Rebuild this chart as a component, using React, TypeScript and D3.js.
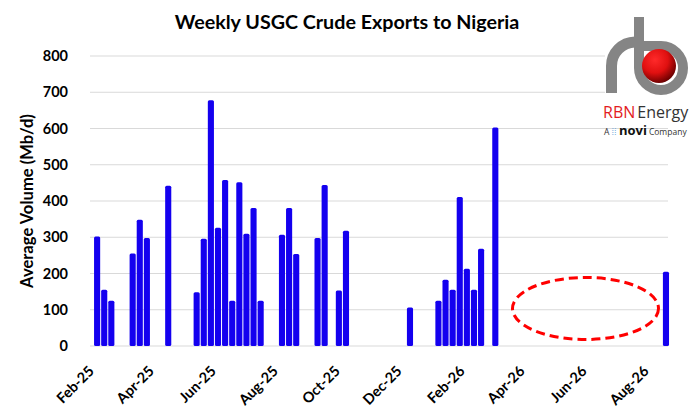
import { useEffect, useRef } from 'react';
import * as d3 from 'd3';

// weekly export dates (week ending) and volumes in Mb/d
const weekDates = [
    '2025-02-07', '2025-02-14', '2025-02-21', '2025-03-14', '2025-03-21', '2025-03-28',
    '2025-04-18', '2025-05-16', '2025-05-23', '2025-05-30', '2025-06-06', '2025-06-13',
    '2025-06-20', '2025-06-27', '2025-07-04', '2025-07-11', '2025-07-18', '2025-08-08',
    '2025-08-15', '2025-08-22', '2025-09-12', '2025-09-19', '2025-10-03', '2025-10-10',
    '2025-12-12', '2026-01-09', '2026-01-16', '2026-01-23', '2026-01-30', '2026-02-06',
    '2026-02-13', '2026-02-20', '2026-03-06', '2026-08-21',
];
const volumes = [
    302, 155, 125, 255, 348, 298,
    442, 148, 296, 678, 326, 458,
    125, 452, 310, 381, 125, 307,
    381, 254, 298, 444, 153, 318,
    106, 125, 183, 155, 411, 213,
    155, 268, 603, 205,
];
const yTicks = [0, 100, 200, 300, 400, 500, 600, 700, 800];
const xTickDates = [
    '2025-02-01', '2025-04-01', '2025-06-01', '2025-08-01', '2025-10-01',
    '2025-12-01', '2026-02-01', '2026-04-01', '2026-06-01', '2026-08-01',
];

const width = 699;
const height = 412;
const plot = { left: 90, right: 668, top: 56, bottom: 346 };
const parse = d3.timeParse('%Y-%m-%d');
const fmt = d3.timeFormat('%b-%y');
const font = 'Lato, sans-serif';

const App = () => {
    const svgRef = useRef<SVGSVGElement>(null);

    useEffect(() => {
        const svg = d3.select(svgRef.current);
        svg.selectAll('*').remove();

        const x = d3
            .scaleTime()
            .domain([parse('2025-01-31')!, parse('2026-08-23')!])
            .range([plot.left, plot.right]);
        const y = d3.scaleLinear().domain([0, 800]).range([plot.bottom, plot.top]);
        const barW = (x(parse('2025-02-14')!) - x(parse('2025-02-07')!)) * 0.86;

        svg.append('rect').attr('width', width).attr('height', height).attr('fill', '#fff');

        // title
        svg.append('text')
            .attr('x', 347)
            .attr('y', 29)
            .attr('text-anchor', 'middle')
            .style('font-family', font)
            .style('font-weight', 'bold')
            .style('font-size', '19.7px')
            .text('Weekly USGC Crude Exports to Nigeria');

        // gridlines
        svg.append('g')
            .selectAll('line')
            .data(yTicks)
            .join('line')
            .attr('x1', plot.left)
            .attr('x2', plot.right)
            .attr('y1', d => y(d))
            .attr('y2', d => y(d))
            .attr('stroke', '#d9d9d9')
            .attr('stroke-width', 1);

        // y labels
        svg.append('g')
            .selectAll('text')
            .data(yTicks)
            .join('text')
            .attr('x', 68)
            .attr('y', d => y(d))
            .attr('dy', '0.36em')
            .attr('text-anchor', 'end')
            .style('font-family', font)
            .style('font-weight', 'bold')
            .style('font-size', '14.5px')
            .text(d => d);

        svg.append('text')
            .attr('transform', 'translate(33,201) rotate(-90)')
            .attr('text-anchor', 'middle')
            .style('font-family', font)
            .style('font-weight', 'bold')
            .style('font-size', '16.6px')
            .text('Average Volume (Mb/d)');

        // x labels
        svg.append('g')
            .selectAll('text')
            .data(xTickDates.map(d => parse(d)!))
            .join('text')
            .attr('transform', d => `translate(${x(d) + 4},372) rotate(-45)`)
            .attr('text-anchor', 'end')
            .style('font-family', font)
            .style('font-weight', 'bold')
            .style('font-size', '14.5px')
            .text(d => fmt(d));

        // bars
        svg.append('g')
            .selectAll('rect')
            .data(weekDates.map((d, i) => ({ date: parse(d)!, value: volumes[i] })))
            .join('rect')
            .attr('x', d => x(d.date) - barW / 2)
            .attr('y', d => y(d.value))
            .attr('width', barW)
            .attr('height', d => y(0) - y(d.value))
            .attr('rx', 1.5)
            .attr('fill', '#1400ef');

        // dashed ellipse marking missing weeks
        svg.append('ellipse')
            .attr('cx', 585.5)
            .attr('cy', 308.5)
            .attr('rx', 73)
            .attr('ry', 31)
            .attr('fill', 'none')
            .attr('stroke', '#ff0000')
            .attr('stroke-width', 3)
            .attr('stroke-dasharray', '9,5');

        // logo
        const logo = svg.append('g');
        logo.append('rect').attr('x', 605).attr('y', 12).attr('width', 94).attr('height', 110).attr('fill', '#fff');
        const defs = svg.append('defs');
        const ball = defs.append('radialGradient').attr('id', 'ball').attr('cx', '38%').attr('cy', '32%').attr('r', '70%');
        ball.append('stop').attr('offset', '0%').attr('stop-color', '#ff2a2a');
        ball.append('stop').attr('offset', '55%').attr('stop-color', '#e01010');
        ball.append('stop').attr('offset', '100%').attr('stop-color', '#6a0000');

        logo.append('path')
            .attr('d', 'M611.5,93 V66 A24,24 0 0 1 635,42 H639')
            .attr('fill', 'none')
            .attr('stroke', '#858585')
            .attr('stroke-width', 11);
        logo.append('path')
            .attr('d', 'M639,17 V68 A22,22 0 1 0 661,46 H639')
            .attr('fill', 'none')
            .attr('stroke', '#858585')
            .attr('stroke-width', 10);
        logo.append('circle').attr('cx', 659).attr('cy', 66).attr('r', 17).attr('fill', 'url(#ball)');

        const brand = logo.append('text')
            .attr('x', 603)
            .attr('y', 118)
            .style('font-family', '"Open Sans", sans-serif')
            .style('font-size', '16px');
        brand.append('tspan').attr('fill', '#e31b23').text('RBN');
        brand.append('tspan').attr('fill', '#333').attr('dx', 2).text('Energy');

        const novi = logo.append('text')
            .attr('x', 604)
            .attr('y', 135)
            .style('font-family', '"Open Sans", sans-serif')
            .style('font-size', '8.5px')
            .attr('fill', '#333');
        novi.append('tspan').text('A ');
        novi.append('tspan').attr('fill', '#6fa8dc').attr('font-size', '9px').text('⁞⁞ ');
        novi.append('tspan').attr('font-weight', 'bold').attr('font-size', '13px').attr('fill', '#111').text('novi');
        novi.append('tspan').attr('dx', 2).text('Company');
    }, []);

    return (
        <div style={{ position: 'fixed', left: 0, top: 0 }}>
            <svg ref={svgRef} width={width} height={height}></svg>
        </div>
    );
};

export default App;
